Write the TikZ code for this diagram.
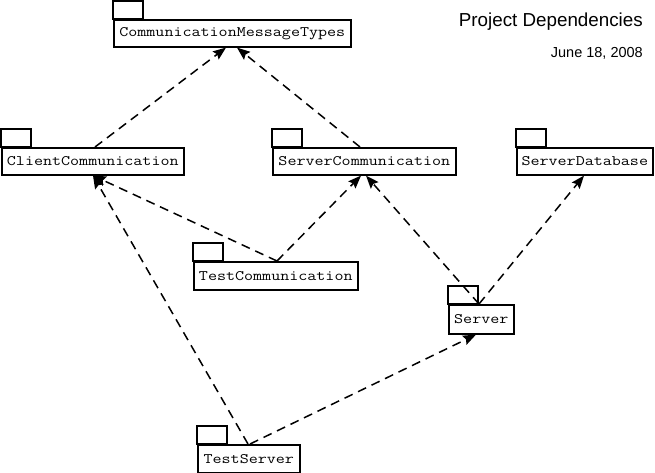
\documentclass[tikz,border=0pt]{standalone}
\usepackage{fontspec}
\usepackage{graphicx}
\usetikzlibrary{arrows.meta}
\newfontfamily\titlefont{Liberation Sans}
\newcommand\pkgtext[1]{\scalebox{1.21}[1]{\fontsize{14.5}{14.5}\selectfont\ttfamily #1}}
\newcommand\pkg[6]{%
  \node[pkgbox, anchor=north west, minimum width={#4-#2}, minimum height={#5-#3}] (#1) at (#2,#3) {\pkgtext{#6}};
  \draw[pkgline] (#1.north west) rectangle ++(30,-18);}
\tikzset{
  pkgline/.style={draw=black, line width=1.6pt},
  pkgbox/.style={draw=black, line width=1.6pt, inner sep=0pt, fill=white},
  dep/.style={line width=1.5pt, dash pattern=on 9pt off 6pt,
    -{Stealth[length=13pt,width=10pt,inset=2pt]}},
}
\begin{document}
\begin{tikzpicture}[x=1pt,y=-1pt]
\useasboundingbox (0,0) rectangle (655,473);
\pkg{cmt}{113}{19}{350}{46}{CommunicationMessageTypes}
\pkg{cc}{1}{147}{183}{174}{ClientCommunication}
\pkg{sc}{272}{147}{455}{174}{ServerCommunication}
\pkg{sd}{516}{147}{652}{174}{ServerDatabase}
\pkg{tc}{193}{261}{357}{289}{TestCommunication}
\pkg{srv}{448}{304}{513}{333}{Server}
\pkg{ts}{197}{444}{299}{472}{TestServer}
\node[anchor=base east, inner sep=0pt, font=\titlefont\fontsize{18.8}{20}\selectfont] (title) at (643,27) {Project Dependencies};
\node[anchor=base east, inner sep=0pt, font=\titlefont\fontsize{14.5}{16}\selectfont] (date) at (643,58) {June 18, 2008};
\draw[dep] ([xshift=94pt]cc.north west) -- ([xshift=113pt]cmt.south west);
\draw[dep] ([xshift=88pt]sc.north west) -- ([xshift=124pt]cmt.south west);
\draw[dep] ([xshift=84pt]tc.north west) -- ([xshift=92pt]cc.south west);
\draw[dep] ([xshift=84pt]tc.north west) -- ([xshift=89pt]sc.south west);
\draw[dep] ([xshift=31pt]srv.north west) -- ([xshift=94pt]sc.south west);
\draw[dep] ([xshift=31pt]srv.north west) -- ([xshift=68pt]sd.south west);
\draw[dep] ([xshift=51pt]ts.north west) -- ([xshift=92pt]cc.south west);
\draw[dep] ([xshift=53pt]ts.north west) -- ([xshift=28pt]srv.south west);
\end{tikzpicture}
\end{document}
